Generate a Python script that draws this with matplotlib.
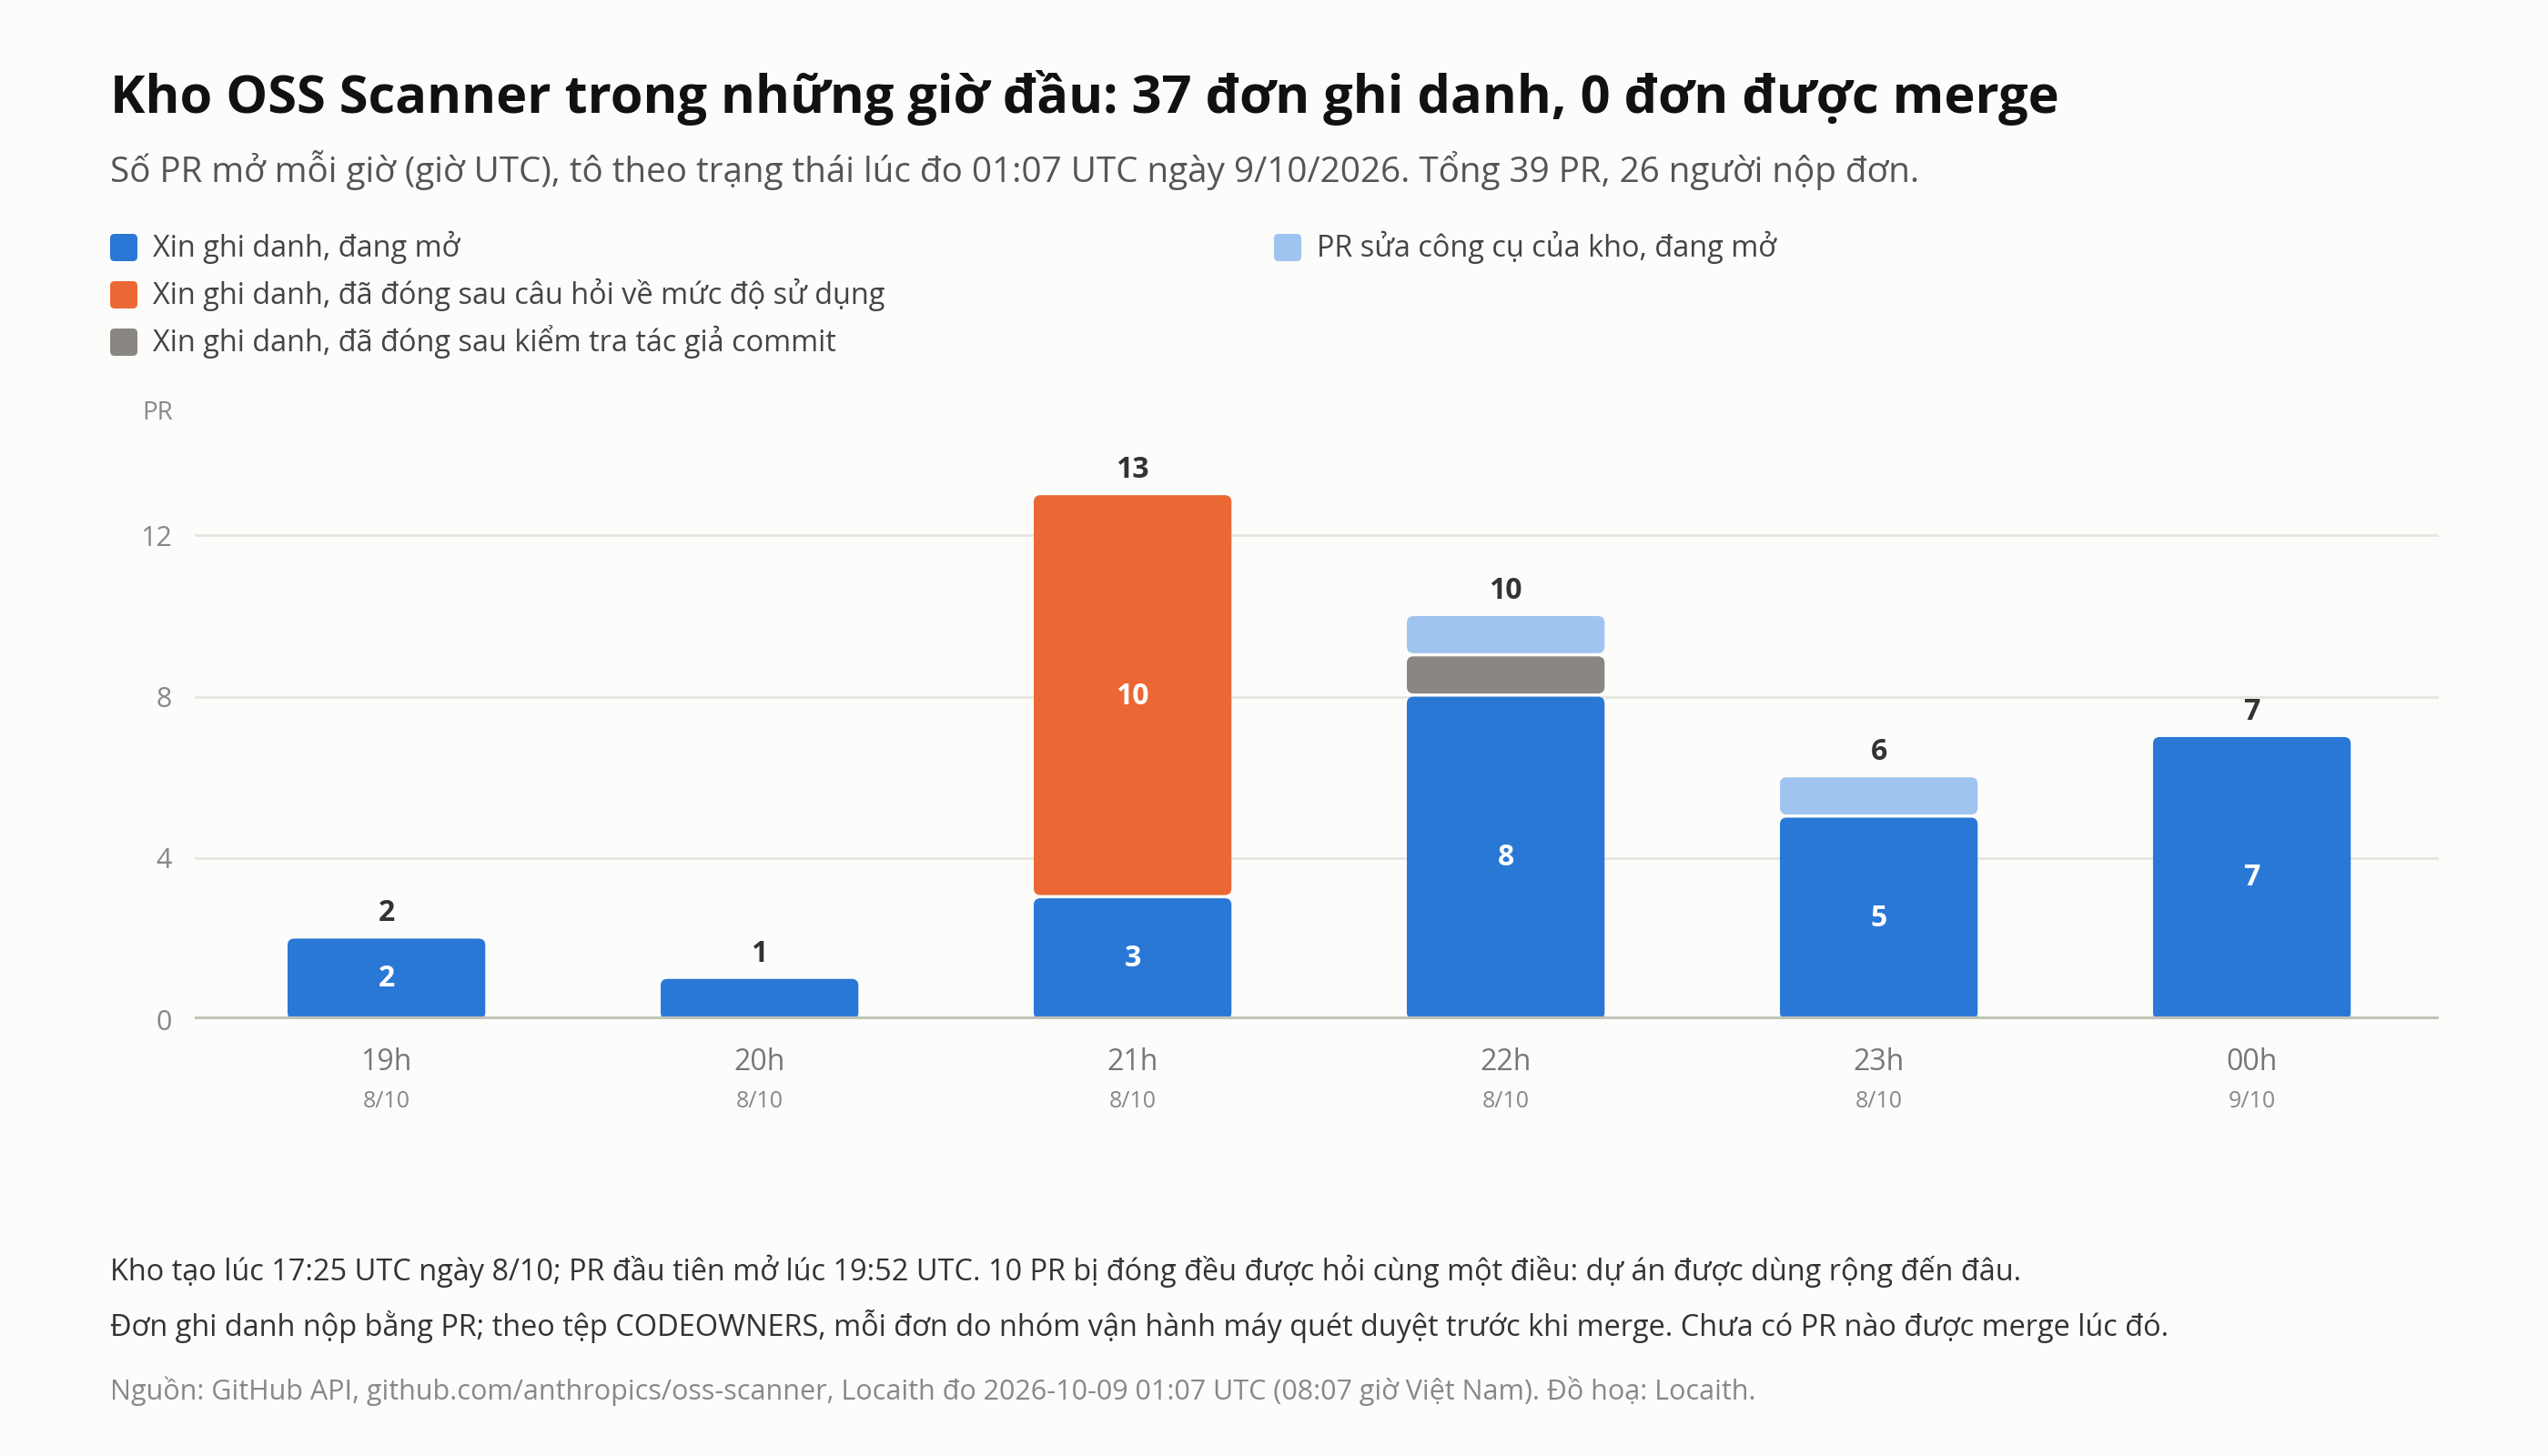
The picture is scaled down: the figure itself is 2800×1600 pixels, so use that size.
import matplotlib.pyplot as plt
from matplotlib.patches import FancyBboxPatch
from matplotlib.transforms import IdentityTransform
import numpy as np

plt.rcParams['font.family'] = ['Open Sans', 'DejaVu Sans']

hours = ['19h', '20h', '21h', '22h', '23h', '00h']
dates = ['8/10', '8/10', '8/10', '8/10', '8/10', '9/10']
open_reg = [2, 1, 3, 8, 5, 7]
closed_usage = [0, 0, 10, 0, 0, 0]
closed_author = [0, 0, 0, 1, 0, 0]
tool_pr = [0, 0, 0, 1, 1, 0]

series = [
    ('Xin ghi danh, đang mở', open_reg, '#2A78D6'),
    ('Xin ghi danh, đã đóng sau câu hỏi về mức độ sử dụng', closed_usage, '#EB6834'),
    ('Xin ghi danh, đã đóng sau kiểm tra tác giả commit', closed_author, '#8A8782'),
    ('PR sửa công cụ của kho, đang mở', tool_pr, '#9EC4EF'),
]

bg = '#FCFCFB'
fig = plt.figure(figsize=(14, 8), dpi=200, facecolor=bg)
ax = fig.add_axes([0.0764, 0.30, 0.8806, 0.3876])
ax.set_facecolor(bg)

x = np.arange(len(hours))
width = 0.53
bottom = np.zeros(len(hours))
aspect = 9.25  # y units per x unit, in pixels
for name, vals, col in series:
    bars = ax.bar(x, vals, width, bottom=bottom, color='none', edgecolor='none')
    for b, v in zip(bars, vals):
        if v == 0:
            continue
        gap = 0.08 if b.get_y() > 0 else 0
        p = FancyBboxPatch((b.get_x(), b.get_y() + gap), b.get_width(), b.get_height() - gap,
                           boxstyle='round,pad=0,rounding_size=0.018',
                           mutation_aspect=aspect, facecolor=col, edgecolor='none', zorder=3)
        ax.add_patch(p)
        if v >= 2:
            ax.text(b.get_x() + b.get_width() / 2, b.get_y() + v / 2, str(v),
                    ha='center', va='center', color='white', fontsize=11.5,
                    fontweight='bold', zorder=4)
    bottom += np.array(vals)

for xi, t in zip(x, bottom):
    ax.text(xi, t + 0.25, str(int(t)), ha='center', va='bottom', color='#333333',
            fontsize=11.5, fontweight='bold')

ax.set_xlim(-0.514, 5.50)
ax.set_ylim(0, 14)
ax.set_yticks([0, 4, 8, 12])
ax.grid(axis='y', color='#E6E6E1', linewidth=1)
ax.set_axisbelow(True)
for s in ['top', 'right', 'left', 'bottom']:
    ax.spines[s].set_visible(False)
ax.axhline(0, color='#C2C4B6', linewidth=2.2, zorder=5)
ax.tick_params(axis='y', length=0, pad=9, labelsize=11, labelcolor='#888888')
ax.tick_params(axis='x', length=0, pad=11, labelsize=11.5, labelcolor='#777777')
ax.set_xticks(x)
ax.set_xticklabels(hours)
for xi, d in zip(x, dates):
    ax.text(xi, -0.125, d, transform=ax.get_xaxis_transform(), ha='center',
            va='top', fontsize=9, color='#888888')

ax.text(0.0618, 0.716, 'PR', transform=fig.transFigure, ha='center', va='center',
        fontsize=10, color='#888888')

# title block
fig.text(0.0432, 0.933, 'Kho OSS Scanner trong những giờ đầu: 37 đơn ghi danh, 0 đơn được merge',
         fontsize=20.8, fontweight='bold', color='#111111', va='center')
fig.text(0.0432, 0.883, 'Số PR mở mỗi giờ (giờ UTC), tô theo trạng thái lúc đo 01:07 UTC ngày 9/10/2026. Tổng 39 PR, 26 người nộp đơn.',
         fontsize=13.9, color='#555555', va='center')

# legend
leg_pos = [(121, 1600 - 272), (121, 1600 - 324), (121, 1600 - 376), (1400, 1600 - 272)]
for (px, py), (name, vals, col) in zip(leg_pos, series):
    fig.patches.append(FancyBboxPatch((px, py - 15), 30, 30, boxstyle='round,pad=0,rounding_size=5',
                                      facecolor=col, edgecolor='none', transform=IdentityTransform(),
                                      figure=fig))
    fig.text((px + 47) / 2800, py / 1600, name, fontsize=11.7, color='#444444', va='center')

# footer
fig.text(0.0432, 1 - 1397 / 1600, 'Kho tạo lúc 17:25 UTC ngày 8/10; PR đầu tiên mở lúc 19:52 UTC. 10 PR bị đóng đều được hỏi cùng một điều: dự án được dùng rộng đến đâu.',
         fontsize=11.7, color='#333333', va='center')
fig.text(0.0432, 1 - 1457 / 1600, 'Đơn ghi danh nộp bằng PR; theo tệp CODEOWNERS, mỗi đơn do nhóm vận hành máy quét duyệt trước khi merge. Chưa có PR nào được merge lúc đó.',
         fontsize=11.7, color='#333333', va='center')
fig.text(0.0432, 1 - 1529 / 1600, 'Nguồn: GitHub API, github.com/anthropics/oss-scanner, Locaith đo 2026-10-09 01:07 UTC (08:07 giờ Việt Nam). Đồ hoạ: Locaith.',
         fontsize=11, color='#888888', va='center')

fig.savefig('out.png', dpi=200, facecolor=bg)
